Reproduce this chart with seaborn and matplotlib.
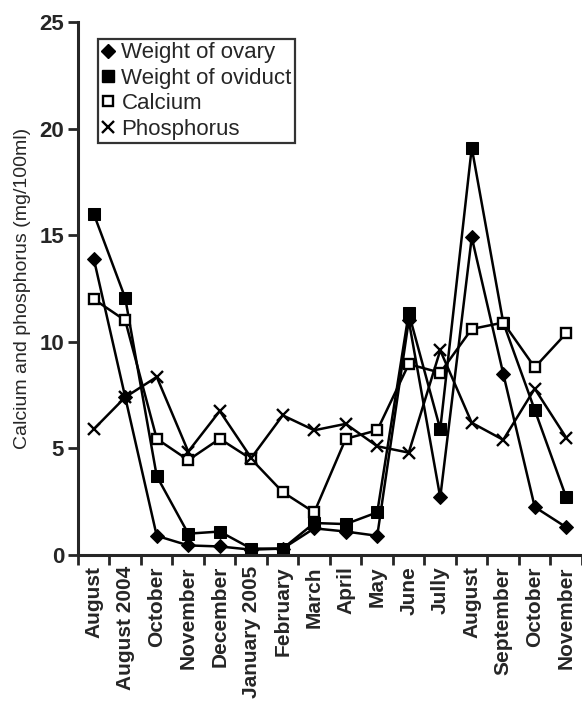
import numpy as np
import pandas as pd
import matplotlib
matplotlib.use("Agg")
import matplotlib.pyplot as plt
import seaborn as sns
from matplotlib.lines import Line2D
from matplotlib.ticker import FixedLocator

months = ["August", "August 2004", "October", "November", "December",
          "January 2005", "February", "March", "April", "May", "June",
          "Jully", "August", "September", "October", "November"]

ovary = [13.9, 7.4, 0.9, 0.45, 0.4, 0.25, 0.3, 1.25, 1.1, 0.9, 11.0,
         2.7, 14.9, 8.5, 2.25, 1.3]
oviduct = [16.0, 12.05, 3.7, 1.0, 1.1, 0.3, 0.3, 1.5, 1.45, 2.0, 11.35,
           5.9, 19.1, 10.9, 6.8, 2.7]
calcium = [12.0, 11.0, 5.45, 4.45, 5.45, 4.5, 2.95, 2.0, 5.45, 5.85, 8.95,
           8.55, 10.6, 10.9, 8.8, 10.4]
phosphorus = [5.9, 7.4, 8.35, 4.85, 6.75, 4.55, 6.55, 5.85, 6.15, 5.1, 4.8,
              9.6, 6.2, 5.4, 7.8, 5.5]

series_names = ["Weight of ovary", "Weight of oviduct", "Calcium", "Phosphorus"]

sns.set_style("ticks")
plt.rcParams['font.family'] = ['Liberation Sans', 'DejaVu Sans']

fig = plt.figure(figsize=(5.82, 7.07), dpi=100)
ax = fig.add_axes([0.134, 0.215, 0.866, 0.754])

x = np.arange(len(months))
styles = {
    "Weight of ovary": dict(marker="D", markersize=7, markerfacecolor="black", markeredgecolor="black"),
    "Weight of oviduct": dict(marker="s", markersize=9, markerfacecolor="black", markeredgecolor="black"),
    "Calcium": dict(marker="s", markersize=7, markerfacecolor="white", markeredgecolor="black", markeredgewidth=1.7),
    "Phosphorus": dict(marker="x", markersize=8, markeredgecolor="black", markeredgewidth=1.7),
}
for name, vals in zip(series_names, [ovary, oviduct, calcium, phosphorus]):
    df = pd.DataFrame({"x": x, "y": vals})
    sns.lineplot(data=df, x="x", y="y", ax=ax, color="black", linewidth=1.8,
                 **styles[name])

ax.set_xlim(-0.5, 15.5)
ax.set_ylim(0, 25)
ax.set_yticks([0, 5, 10, 15, 20, 25])
ax.set_xticks(x)
ax.set_xticklabels(months, rotation=90, fontsize=15, fontweight="bold")
ax.xaxis.set_minor_locator(FixedLocator(np.arange(-0.5, 16, 1)))
ax.tick_params(axis="x", which="major", length=0, pad=8)
ax.tick_params(axis="x", which="minor", length=7, width=2, direction="out")
ax.tick_params(axis="y", length=7, width=2, labelsize=16, pad=3)
for lab in ax.get_yticklabels():
    lab.set_fontweight("bold")
ax.set_xlabel("")
ax.set_ylabel("Calcium and phosphorus (mg/100ml)", fontsize=14, labelpad=6)
sns.despine(ax=ax)
ax.spines["left"].set_linewidth(2.2)
ax.spines["bottom"].set_linewidth(2.2)

handles = [Line2D([], [], linestyle="none", **styles[n]) for n in series_names]
leg = ax.legend(handles, series_names, loc="upper left", bbox_to_anchor=(0.04, 0.968),
                frameon=True, fancybox=False, fontsize=16, handlelength=0.6,
                handletextpad=0.3, borderpad=0.15, labelspacing=0.2, borderaxespad=0)
leg.get_frame().set_edgecolor("black")
leg.get_frame().set_linewidth(1.6)

fig.savefig("out.png", dpi=100)
